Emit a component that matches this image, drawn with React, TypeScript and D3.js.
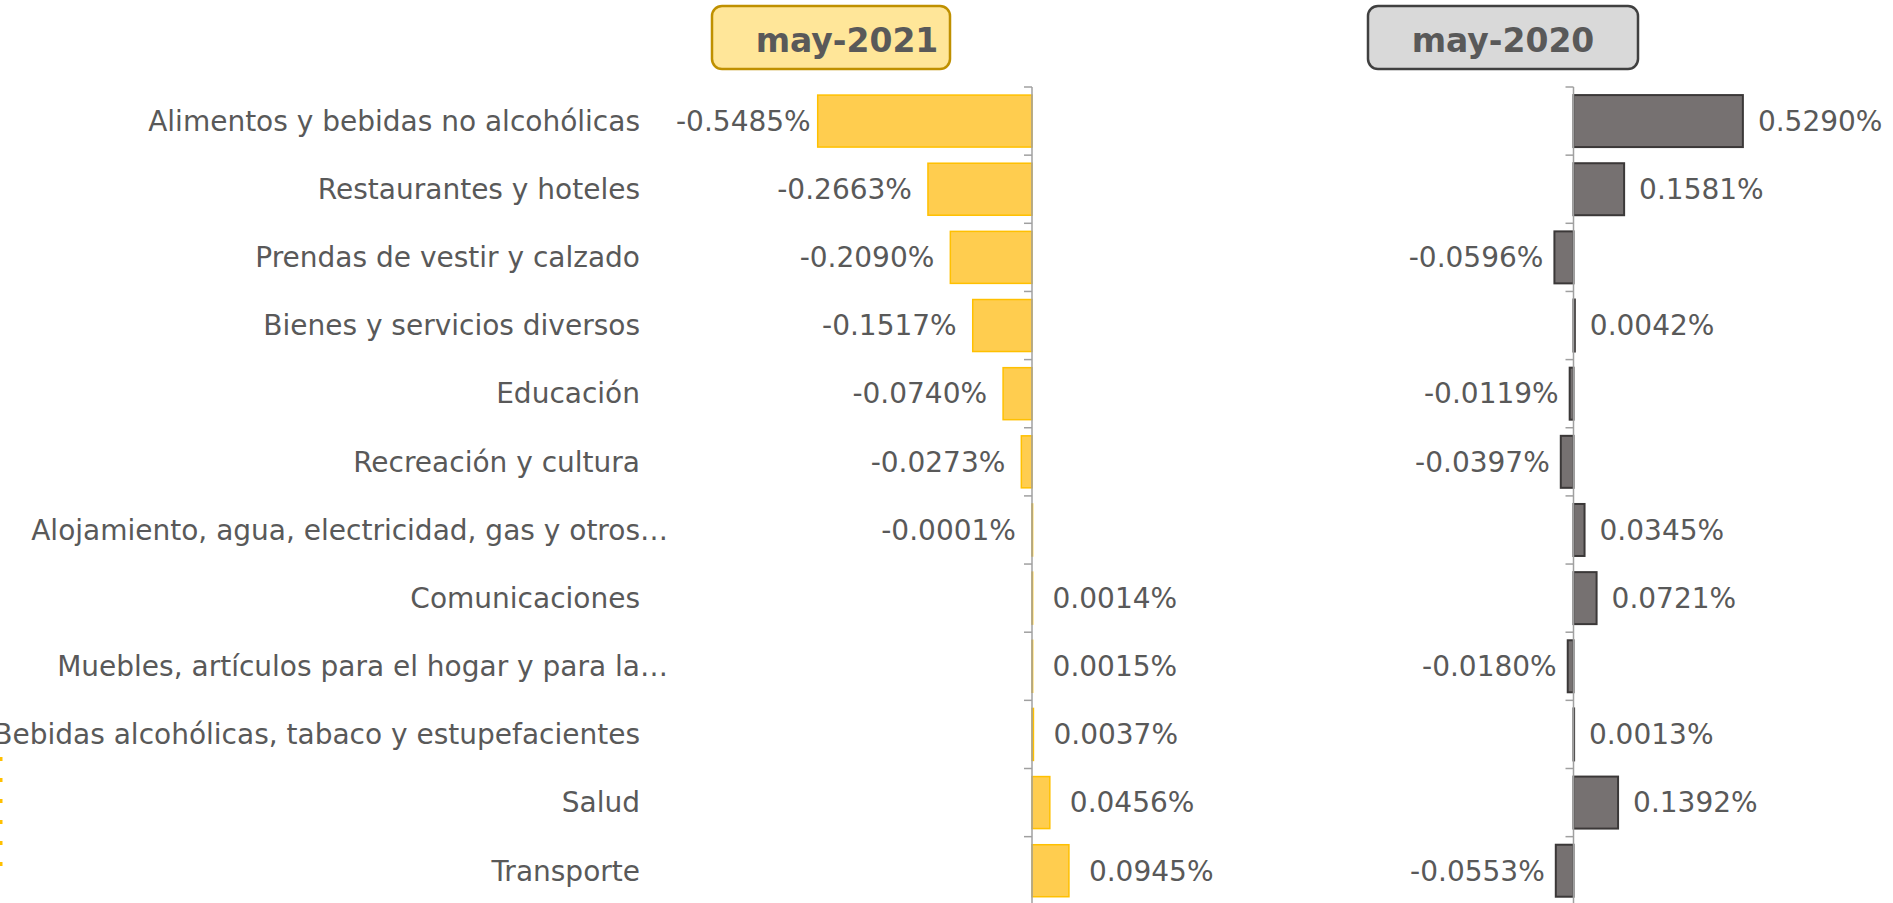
import React, { useEffect, useRef } from "react";
import * as d3 from "d3";

const categories = [
  "Alimentos y bebidas no alcohólicas",
  "Restaurantes y hoteles",
  "Prendas de vestir y calzado",
  "Bienes y servicios diversos",
  "Educación",
  "Recreación y cultura",
  "Alojamiento, agua, electricidad, gas y otros…",
  "Comunicaciones",
  "Muebles, artículos para el hogar y para la…",
  "Bebidas alcohólicas, tabaco y estupefacientes",
  "Salud",
  "Transporte",
];

const may2021 = [-0.5485, -0.2663, -0.209, -0.1517, -0.074, -0.0273, -0.0001, 0.0014, 0.0015, 0.0037, 0.0456, 0.0945];
const may2020 = [0.529, 0.1581, -0.0596, 0.0042, -0.0119, -0.0397, 0.0345, 0.0721, -0.018, 0.0013, 0.1392, -0.0553];

const titles = ["may-2021", "may-2020"];

const W = 1893;
const H = 903;
const FONT = "'DejaVu Sans', sans-serif";
const TEXT = "#595959";

export default function App() {
  const ref = useRef<SVGSVGElement | null>(null);

  useEffect(() => {
    const svg = d3.select(ref.current);
    svg.selectAll("*").remove();

    const y = d3
      .scaleBand<string>()
      .domain(categories)
      .range([87, 87 + 12 * 68.15])
      .paddingInner(0.237)
      .paddingOuter(0.1185);
    const step = y.step();

    // decorative dotted mark at left edge
    svg
      .append("line")
      .attr("x1", 1)
      .attr("x2", 1)
      .attr("y1", 757)
      .attr("y2", 868)
      .attr("stroke", "#FFC000")
      .attr("stroke-width", 3)
      .attr("stroke-dasharray", "4,17");

    // category labels
    const labelRight = 640;
    const catG = svg.append("g");
    categories.forEach((c) => {
      const cy = (y(c) as number) + y.bandwidth() / 2;
      const truncated = c.endsWith("…");
      const base = truncated ? c.slice(0, -1) : c;
      catG
        .append("text")
        .attr("x", labelRight)
        .attr("y", cy)
        .attr("dy", "0.35em")
        .attr("text-anchor", "end")
        .attr("font-family", FONT)
        .attr("font-size", 28)
        .attr("fill", TEXT)
        .text(base);
      if (truncated) {
        catG
          .append("text")
          .attr("x", labelRight)
          .attr("y", cy)
          .attr("dy", "0.35em")
          .attr("font-family", FONT)
          .attr("font-size", 28)
          .attr("fill", TEXT)
          .text("…");
      }
    });

    const fmt = (v: number) => d3.format(".4f")(v).replace("\u2212", "-") + "%";

    const panels = [
      {
        values: may2021,
        x: d3.scaleLinear().domain([-0.6, 0.2]).range([1032 - 0.6 * 390.7, 1032 + 0.2 * 390.7]),
        fill: "#FFCD4F",
        stroke: "#FFC000",
        sw: 1.5,
        gapPos: 20,
        gapNeg: 16,
        minLeft: 676,
        title: titles[0],
        box: [712, 950],
        titleX: 847,
        boxFill: "#FFE699",
        boxStroke: "#BF9000",
      },
      {
        values: may2020,
        x: d3.scaleLinear().domain([-0.1, 0.6]).range([1573.5 - 0.1 * 320.2, 1573.5 + 0.6 * 320.2]),
        fill: "#767171",
        stroke: "#3B3838",
        sw: 2,
        gapPos: 15,
        gapNeg: 11,
        minLeft: 0,
        title: titles[1],
        box: [1368, 1638],
        titleX: 1503,
        boxFill: "#D9D9D9",
        boxStroke: "#404040",
      },
    ];

    panels.forEach((p) => {
      const g = svg.append("g");
      const x0 = p.x(0);

      // title box
      g.append("rect")
        .attr("x", p.box[0])
        .attr("y", 6)
        .attr("width", p.box[1] - p.box[0])
        .attr("height", 63)
        .attr("rx", 10)
        .attr("fill", p.boxFill)
        .attr("stroke", p.boxStroke)
        .attr("stroke-width", 2.5);
      g.append("text")
        .attr("x", p.titleX)
        .attr("y", 52)
        .attr("text-anchor", "middle")
        .attr("font-family", FONT)
        .attr("font-weight", "bold")
        .attr("font-size", 33)
        .attr("fill", TEXT)
        .text(p.title);

      // bars
      g.selectAll("rect.bar")
        .data(p.values)
        .join("rect")
        .attr("class", "bar")
        .attr("x", (d) => Math.min(p.x(d), x0))
        .attr("y", (_, i) => y(categories[i]) as number)
        .attr("width", (d) => Math.max(Math.abs(p.x(d) - x0), 0.6))
        .attr("height", y.bandwidth())
        .attr("fill", p.fill)
        .attr("stroke", p.stroke)
        .attr("stroke-width", p.sw);

      // axis line and ticks
      g.append("line")
        .attr("x1", x0)
        .attr("x2", x0)
        .attr("y1", 87)
        .attr("y2", 87 + 12 * step)
        .attr("stroke", "#A0A0A0")
        .attr("stroke-width", 1.5);
      d3.range(13).forEach((i) => {
        g.append("line")
          .attr("x1", x0 - 8)
          .attr("x2", x0)
          .attr("y1", 87 + i * step)
          .attr("y2", 87 + i * step)
          .attr("stroke", "#A0A0A0")
          .attr("stroke-width", 1.5);
      });

      // data labels
      p.values.forEach((v, i) => {
        const cy = (y(categories[i]) as number) + y.bandwidth() / 2;
        const t = g
          .append("text")
          .attr("y", cy)
          .attr("dy", "0.35em")
          .attr("font-family", FONT)
          .attr("font-size", 28)
          .attr("fill", TEXT)
          .text(fmt(v));
        if (v >= 0) {
          t.attr("x", p.x(v) + p.gapPos).attr("text-anchor", "start");
        } else {
          const node = t.node() as SVGTextElement;
          const w = node.getComputedTextLength();
          let right = p.x(v) - p.gapNeg;
          if (right - w < p.minLeft) right = p.minLeft + w;
          t.attr("x", right).attr("text-anchor", "end");
        }
      });
    });
  }, []);

  return (
    <div style={{ position: "absolute", left: 0, top: 0, width: W, height: H, background: "#fff" }}>
      <svg ref={ref} width={W} height={H} style={{ display: "block" }} />
    </div>
  );
}
